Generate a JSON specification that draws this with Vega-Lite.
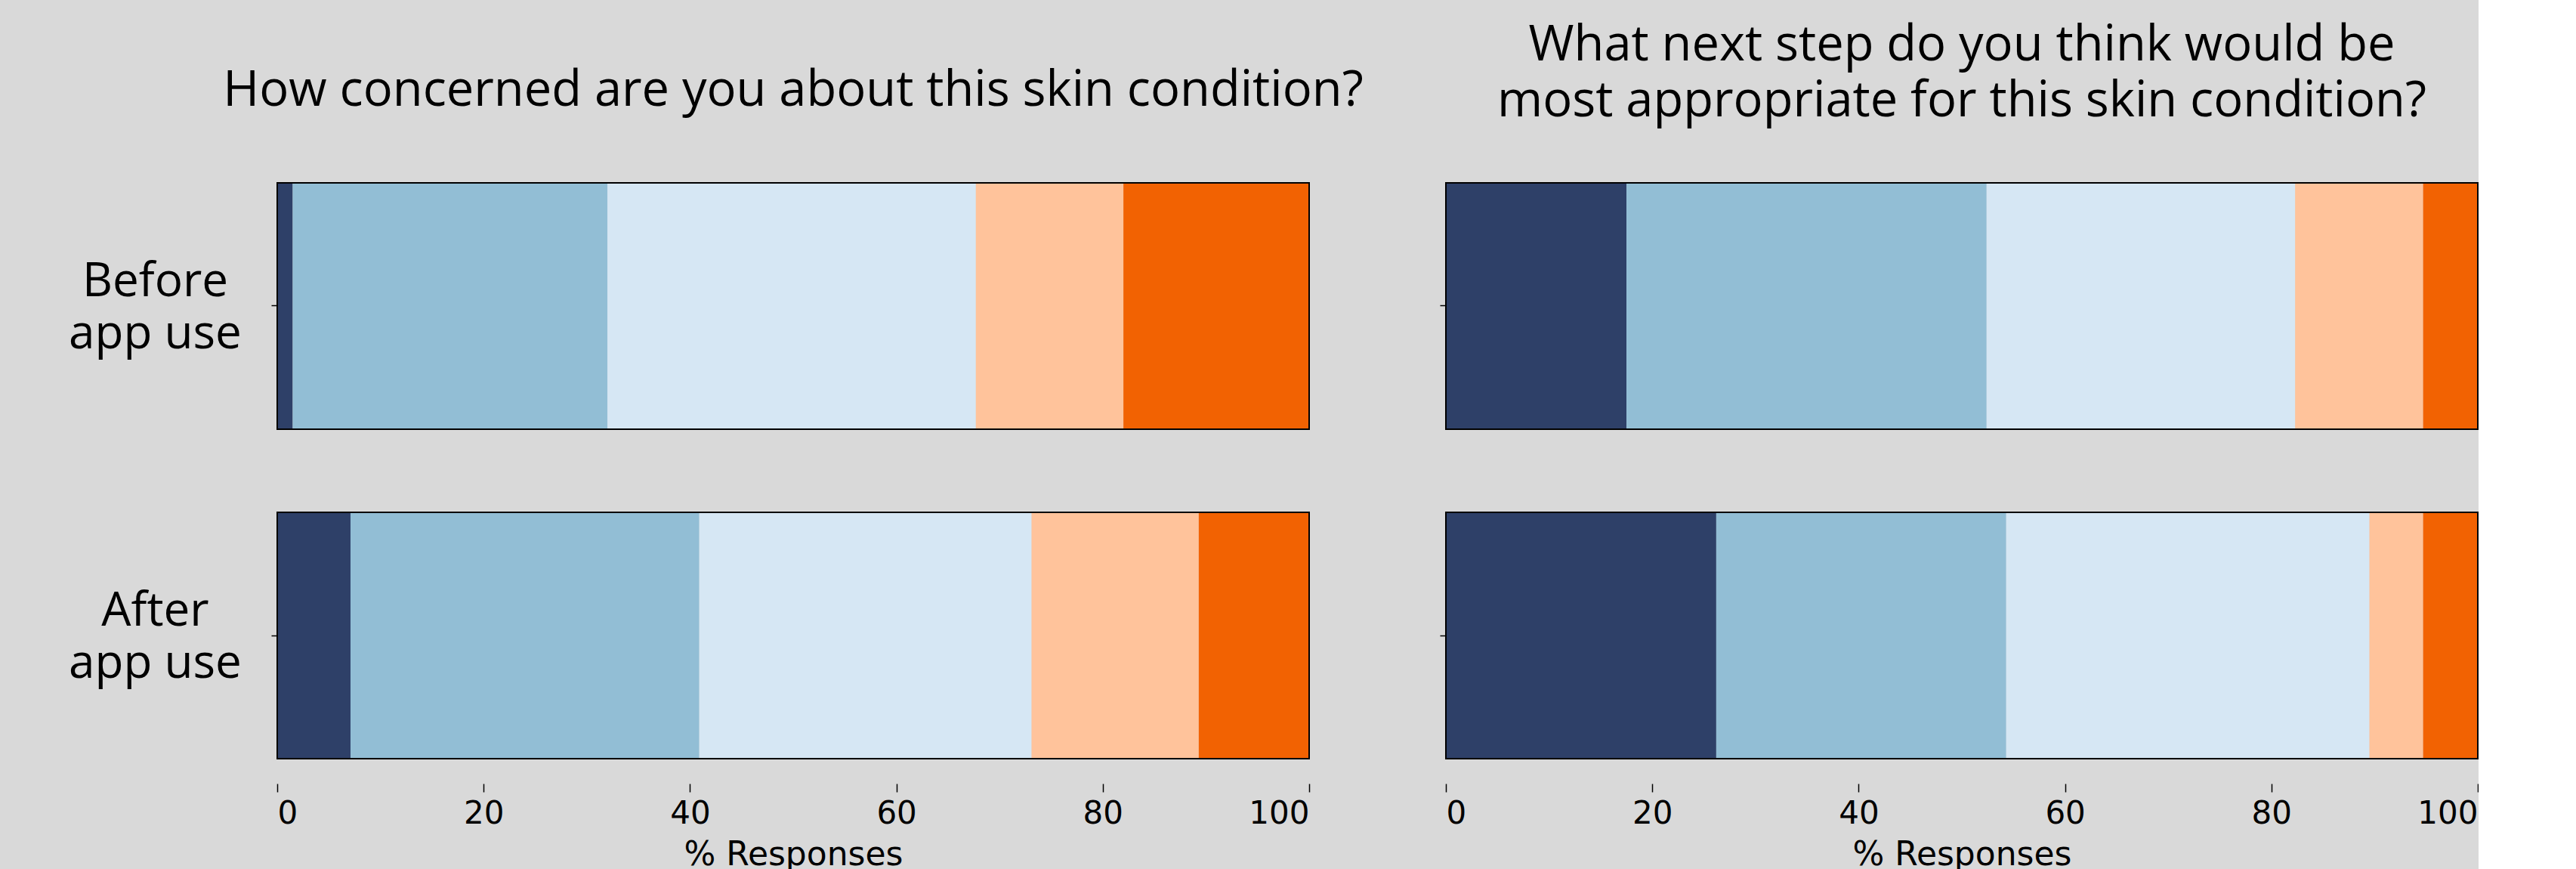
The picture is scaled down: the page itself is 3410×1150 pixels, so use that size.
{
  "$schema": "https://vega.github.io/schema/vega-lite/v6.json",
  "background": "#d9d9d9",
  "padding": {"left": 90, "top": 28, "right": 0, "bottom": 0},
  "spacing": 181,
  "bounds": "flush",
  "data": {
    "values": [
      {"panel": "concern", "group": "Before app use", "level": 1, "value": 1.5},
      {"panel": "concern", "group": "Before app use", "level": 2, "value": 30.5},
      {"panel": "concern", "group": "Before app use", "level": 3, "value": 35.7},
      {"panel": "concern", "group": "Before app use", "level": 4, "value": 14.3},
      {"panel": "concern", "group": "Before app use", "level": 5, "value": 18.0},
      {"panel": "concern", "group": "After app use", "level": 1, "value": 7.1},
      {"panel": "concern", "group": "After app use", "level": 2, "value": 33.8},
      {"panel": "concern", "group": "After app use", "level": 3, "value": 32.2},
      {"panel": "concern", "group": "After app use", "level": 4, "value": 16.2},
      {"panel": "concern", "group": "After app use", "level": 5, "value": 10.7},
      {"panel": "nextstep", "group": "Before app use", "level": 1, "value": 17.5},
      {"panel": "nextstep", "group": "Before app use", "level": 2, "value": 34.9},
      {"panel": "nextstep", "group": "Before app use", "level": 3, "value": 29.9},
      {"panel": "nextstep", "group": "Before app use", "level": 4, "value": 12.4},
      {"panel": "nextstep", "group": "Before app use", "level": 5, "value": 5.3},
      {"panel": "nextstep", "group": "After app use", "level": 1, "value": 26.2},
      {"panel": "nextstep", "group": "After app use", "level": 2, "value": 28.1},
      {"panel": "nextstep", "group": "After app use", "level": 3, "value": 35.2},
      {"panel": "nextstep", "group": "After app use", "level": 4, "value": 5.2},
      {"panel": "nextstep", "group": "After app use", "level": 5, "value": 5.3}
    ]
  },
  "config": {
    "view": {"stroke": null},
    "axis": {"grid": false, "domain": false, "tickColor": "#000000", "labelColor": "#000000", "titleColor": "#000000"}
  },
  "hconcat": [
    {
      "width": 1366,
      "height": 762,
      "title": {"text": "How concerned are you about this skin condition?", "font": "Open Sans", "fontSize": 65, "fontWeight": "normal", "color": "#000000", "baseline": "bottom", "offset": 22, "anchor": "middle"},
      "transform": [{"filter": "datum.panel == 'concern'"}],
      "encoding": {
        "y": {
          "field": "group", "type": "nominal",
          "sort": ["Before app use", "After app use"],
          "scale": {"paddingInner": 0.2523, "paddingOuter": 0},
          "axis": {
            "title": null, "tickSize": 8, "tickWidth": 1.5,
            "labelAlign": "center", "labelBaseline": "middle", "labelPadding": 154, "labelOffset": -32,
            "labelFont": "Open Sans", "labelFontSize": 62, "labelLineHeight": 69, "labelLimit": 0,
            "labelExpr": "datum.value == 'Before app use' ? ['Before', 'app use'] : ['After', 'app use']"
          }
        }
      },
      "layer": [
        {
          "mark": {"type": "bar"},
          "encoding": {
            "x": {
              "field": "value", "type": "quantitative", "stack": "zero",
              "scale": {"domain": [0, 100], "nice": false},
              "axis": {"title": "% Responses", "values": [0, 20, 40, 60, 80, 100], "offset": 33, "tickSize": 11, "tickWidth": 1.5, "labelPadding": 8, "labelFont": "DejaVu Sans", "labelFontSize": 42, "titleFont": "DejaVu Sans", "titleFontSize": 44, "titleFontWeight": "normal", "titlePadding": 12}
            },
            "color": {
              "field": "level", "type": "nominal",
              "scale": {"domain": [1, 2, 3, 4, 5], "range": ["#2e4068", "#92bed5", "#d6e7f4", "#ffc39b", "#f26202"]},
              "legend": null
            },
            "order": {"field": "level", "type": "quantitative", "sort": "ascending"}
          }
        },
        {
          "transform": [{"filter": "datum.level == 1"}],
          "mark": {"type": "rect", "fill": null, "stroke": "#000000", "strokeWidth": 2},
          "encoding": {
            "x": {"datum": 0, "type": "quantitative"},
            "x2": {"datum": 100}
          }
        }
      ]
    },
    {
      "width": 1366,
      "height": 762,
      "title": {"text": ["What next step do you think would be", "most appropriate for this skin condition?"], "lineHeight": 74, "font": "Open Sans", "fontSize": 65, "fontWeight": "normal", "color": "#000000", "baseline": "bottom", "offset": 8, "anchor": "middle"},
      "transform": [{"filter": "datum.panel == 'nextstep'"}],
      "encoding": {
        "y": {
          "field": "group", "type": "nominal",
          "sort": ["Before app use", "After app use"],
          "scale": {"paddingInner": 0.2523, "paddingOuter": 0},
          "axis": {"title": null, "labels": false, "tickSize": 8, "tickWidth": 1.5}
        }
      },
      "layer": [
        {
          "mark": {"type": "bar"},
          "encoding": {
            "x": {
              "field": "value", "type": "quantitative", "stack": "zero",
              "scale": {"domain": [0, 100], "nice": false},
              "axis": {"title": "% Responses", "values": [0, 20, 40, 60, 80, 100], "offset": 33, "tickSize": 11, "tickWidth": 1.5, "labelPadding": 8, "labelFont": "DejaVu Sans", "labelFontSize": 42, "titleFont": "DejaVu Sans", "titleFontSize": 44, "titleFontWeight": "normal", "titlePadding": 12}
            },
            "color": {
              "field": "level", "type": "nominal",
              "scale": {"domain": [1, 2, 3, 4, 5], "range": ["#2e4068", "#92bed5", "#d6e7f4", "#ffc39b", "#f26202"]},
              "legend": null
            },
            "order": {"field": "level", "type": "quantitative", "sort": "ascending"}
          }
        },
        {
          "transform": [{"filter": "datum.level == 1"}],
          "mark": {"type": "rect", "fill": null, "stroke": "#000000", "strokeWidth": 2},
          "encoding": {
            "x": {"datum": 0, "type": "quantitative"},
            "x2": {"datum": 100}
          }
        }
      ]
    }
  ]
}
